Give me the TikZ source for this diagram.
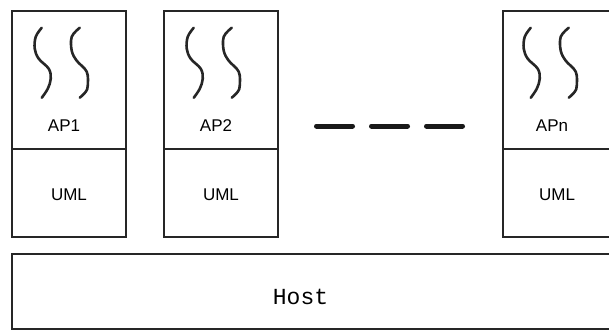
\documentclass[tikz,border=0pt]{standalone}
\usepackage{fontspec}
\setmainfont{Liberation Sans}
\newfontfamily\hostfont{Liberation Mono}
\begin{document}
\begin{tikzpicture}[x=1pt,y=-1pt,
  frame/.style={draw=black!85,line width=2.5pt},
  apbox/.style={frame,rectangle,minimum width=114pt,minimum height=138pt,inner sep=0pt},
  umlbox/.style={frame,rectangle,minimum width=114pt,minimum height=88pt,inner sep=0pt},
  lbl/.style={inner sep=0pt,font=\fontsize{17}{20}\selectfont,text depth=0pt},
  thread/.style={draw=black!85,line width=2.6pt,line cap=round,line join=round},
  threads/.pic={
    \draw[thread] plot[smooth,tension=0.6] coordinates
      {(31,18) (25,27) (24,39) (28,49) (38,59) (40,69) (37,79) (31,88)};
    \draw[thread] plot[smooth,tension=0.6] coordinates
      {(69,18) (61,27) (61,41) (66,51) (76,62) (77,76) (75,82) (69,88)};
  }]
\useasboundingbox (0,0) rectangle (609,329);
\clip (0,0) rectangle (609,329);

% application stacks: AP part on top of a UML part
\node[apbox]  (ap1)  at (69,80)  {};
\node[umlbox] (uml1) at (69,193) {};
\node[apbox]  (ap2)  at (221,80)  {};
\node[umlbox] (uml2) at (221,193) {};
\node[apbox,minimum width=110pt]  (apn)  at (558,80)  {};
\node[umlbox,minimum width=110pt] (umln) at (558,193) {};

\pic at (ap1.north west) {threads};
\pic at (ap2.north west) {threads};
\pic at ([xshift=-2pt]apn.north west) {threads};

\node[lbl] (ap1t) at (64,126) {AP1};
\node[lbl] (ap2t) at (216,126) {AP2};
\node[lbl] (apnt) at (552,126) {APn};
\node[lbl] (uml1t) at (69,195) {UML};
\node[lbl] (uml2t) at (221,195) {UML};
\node[lbl] (umlnt) at (557,195) {UML};

% ellipsis between the stacks
\coordinate (dotsl) at (316.5,126);
\coordinate (dotsr) at (462.5,126);
\draw[black!90,line width=5pt,line cap=round,dash pattern=on 36pt off 19pt] (dotsl) -- (dotsr);

% host layer underneath
\node[frame,rectangle,minimum width=603pt,minimum height=75pt,inner sep=0pt] (host) at (313.5,291.5) {};
\node[inner sep=0pt,font=\hostfont\fontsize{23}{26}\selectfont] (hostt) at (300.5,297) {Host};
\end{tikzpicture}
\end{document}
